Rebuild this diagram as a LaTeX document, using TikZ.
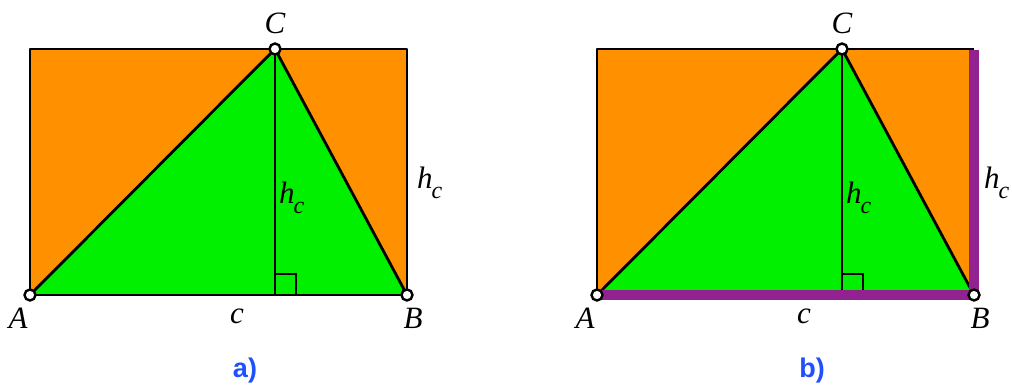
\documentclass[tikz,border=0pt]{standalone}
\usepackage{fontspec}
\setmainfont{Liberation Serif}
\newfontfamily\capfont{Liberation Sans}
\definecolor{orng}{RGB}{255,145,0}
\definecolor{grn}{RGB}{0,240,0}
\definecolor{purp}{RGB}{146,34,143}
\definecolor{capblue}{RGB}{30,80,255}
\tikzset{
  edge/.style={draw=black,line width=2.8pt,line join=round},
  pt/.style={circle,draw=black,fill=white,line width=2.4pt,inner sep=0pt,minimum size=11pt},
  lab/.style={inner sep=0pt,anchor=base,font=\fontsize{31}{36}\selectfont\itshape},
  figcap/.style={inner sep=0pt,anchor=base,text=capblue,font=\capfont\bfseries\fontsize{27}{30}\selectfont},
  band/.style={draw=purp,line width=10pt,line join=miter,line cap=butt}
}
\newcommand{\hlab}{h\kern-1pt\raisebox{-10pt}{\fontsize{24}{24}\selectfont c}}
\begin{document}
\begin{tikzpicture}[x=1pt,y=-1pt]
\useasboundingbox (0,0) rectangle (1012,385);
\foreach \o/\n in {0/a,567/b}{
  \coordinate (A\n) at ({30+\o},295);
  \coordinate (B\n) at ({407+\o},295);
  \coordinate (C\n) at ({275+\o},49);
  \coordinate (F\n) at ({275+\o},295);
  \coordinate (TL\n) at ({30+\o},49);
  \coordinate (TR\n) at ({407+\o},49);
  \fill[orng] (A\n) rectangle (TR\n);
  \fill[grn] (A\n) -- (B\n) -- (C\n) -- cycle;
  \draw[line width=2.4pt] (F\n) ++(0,-21) -| ({296+\o},295);
  \draw[edge] (A\n) -- (C\n) -- (B\n);
  \draw[edge] (C\n) -- (F\n);
  \node[lab,anchor=base west] (hc\n) at ({279+\o},203) {\hlab};
  \node[lab] (c\n) at ({237+\o},323) {c};
  \node[lab] (lA\n) at ({18+\o},328) {A};
  \node[lab] (lB\n) at ({413+\o},328) {B};
  \node[lab] (lC\n) at ({275+\o},34) {C};
  \node[lab,anchor=base west] (hr\n) at ({417+\o},188) {\hlab};
}
\draw[edge] (Ba) -- (TRa) -- (TLa) -- (Aa) -- (Ba);
\draw[edge] (TRb) -- (TLb) -- (Ab);
\draw[band] (Ab) -- (Bb) -- ([yshift=-1pt]TRb);
\node[figcap] (capa) at (245,377) {a)};
\node[figcap] (capb) at (812,377) {b)};
\foreach \n in {a,b}{
  \node[pt] (pA\n) at (A\n) {};
  \node[pt] (pB\n) at (B\n) {};
  \node[pt] (pC\n) at (C\n) {};
}
\end{tikzpicture}
\end{document}
